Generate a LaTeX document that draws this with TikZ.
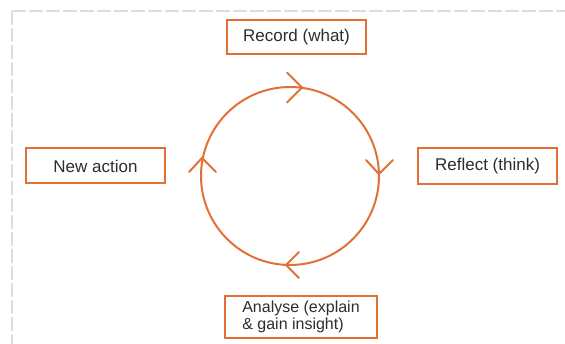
\documentclass[tikz,border=0pt]{standalone}
\usepackage{fontspec}
\setmainfont{Liberation Sans}
\usetikzlibrary{calc}
\definecolor{cyc}{RGB}{226,112,52}
\definecolor{txt}{RGB}{45,45,45}
\definecolor{frame}{RGB}{222,222,222}
\begin{document}
\begin{tikzpicture}[x=1pt,y=-1pt,
  box/.style={draw=cyc, line width=2pt, fill=white, text=txt, inner sep=0pt,
    font=\fontsize{17}{19}\selectfont},
  cycline/.style={draw=cyc, line width=2pt, line cap=round, line join=round},
  border/.style={draw=frame, line width=1.6pt, dash pattern=on 14pt off 3pt}]
\useasboundingbox (0,0) rectangle (565,344);
% dashed frame
\coordinate (corner) at (12,11);
\coordinate (tr) at (565,11);
\coordinate (bl) at (12,344);
\draw[border] (corner) -- (tr);
\draw[border] (corner) -- (bl);
% boxes
\node[box, minimum width=139pt, minimum height=34pt] (record) at (296.5,37.5) {Record (what)};
\node[box, minimum width=139pt, minimum height=35pt] (newaction) at (95.5,166) {New action};
\node[box, minimum width=139pt, minimum height=36pt] (reflect) at (487.5,166.5) {Reflect (think)};
\node[box, minimum width=152pt, minimum height=42pt, align=left,
  font=\fontsize{16}{17}\selectfont] (analyse) at (301,317)
  {Analyse (explain\\\& gain insight)};
% cycle
\coordinate (c) at (290,176);
\draw[cycline] (c) circle[radius=89pt];
% chevrons
\coordinate (ptop) at (302,87.5);
\coordinate (pright) at (379,174);
\coordinate (pbot) at (286,265);
\coordinate (pleft) at (202,158);
\draw[cycline] ($(ptop)+(-15,-15)$) -- (ptop) -- ($(ptop)+(-15,15)$);
\draw[cycline] ($(pright)+(-13,-14)$) -- (pright) -- ($(pright)+(14,-14)$);
\draw[cycline] ($(pbot)+(13,-13)$) -- (pbot) -- ($(pbot)+(13,13)$);
\draw[cycline] ($(pleft)+(-13,14)$) -- (pleft) -- ($(pleft)+(14,14)$);
\end{tikzpicture}
\end{document}
